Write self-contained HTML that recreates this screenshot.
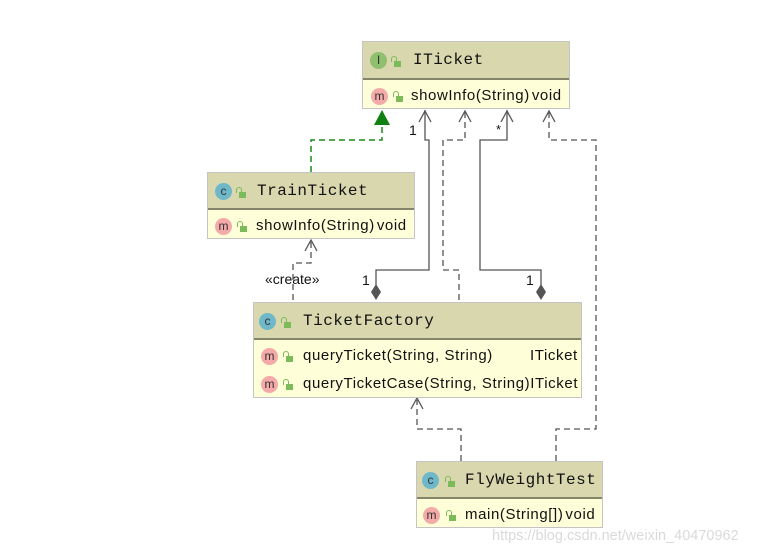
<!DOCTYPE html>
<html><head><meta charset="utf-8"><style>
body{margin:0;width:775px;height:555px;background:#fff;position:relative;overflow:hidden;font-family:"Liberation Sans",sans-serif}
.box{position:absolute;border:1px solid #c4c4c4;background:#fefed9;box-sizing:border-box}
.hd{position:absolute;left:0;right:0;top:0;background:#d8d7ae;border-bottom:2px solid #85856a;box-sizing:border-box}
.title{position:absolute;font-family:"Liberation Mono",monospace;font-size:16px;color:#111;letter-spacing:0.5px}
.row{position:absolute;font-size:15px;letter-spacing:0.6px;color:#111;white-space:nowrap}
.ic{position:absolute;width:17px;height:17px;border-radius:50%;font-size:12px;text-align:center;line-height:16px;color:#333;font-family:"Liberation Sans",sans-serif}
.c{background:#6fb8c9}.i{background:#8fbf6f}.m{background:#f4aaa8}
.lk{position:absolute;width:7px;height:6px;background:#7cba5a}
.lk:before{content:"";position:absolute;left:-3px;top:-5px;width:4px;height:5px;border:1.5px solid #7cba5a;border-bottom:none;border-radius:3px 3px 0 0}
.lbl{position:absolute;font-size:13px;color:#111}
</style></head><body>
<svg width="775" height="555" style="position:absolute;left:0;top:0">
<g fill="none" stroke="#555" stroke-width="1.3">
<path d="M425 110 V140 H429 V270 H376 V285"/>
<path d="M507 110 V140 H480 V270 H541 V285"/>
</g>
<g fill="none" stroke="#555" stroke-width="1.3" stroke-dasharray="6,4">
<path d="M465 112 V140 H443 V270 H459 V302"/>
<path d="M549 112 V140 H596 V429 H556 V461"/>
<path d="M311 242 V263 H293 V302"/>
<path d="M461 461 V429 H417 V400"/>
</g>
<g fill="none" stroke="#555" stroke-width="1.3">
<path d="M419 122 L425 111 L431 122"/>
<path d="M459 122 L465 111 L471 122"/>
<path d="M501 122 L507 111 L513 122"/>
<path d="M543 122 L549 111 L555 122"/>
<path d="M305 251 L311 240 L317 251"/>
<path d="M411 409 L417 398 L423 409"/>
</g>
<path d="M311 172 V140 H382 V125" fill="none" stroke="#1a8a1a" stroke-width="1.5" stroke-dasharray="6,4"/>
<path d="M374 125 L382 110 L390 125 Z" fill="#108010"/>
<path d="M376 284 L381 292 L376 300 L371 292 Z" fill="#555"/>
<path d="M541 284 L546 292 L541 300 L536 292 Z" fill="#555"/>
</svg>

<div class="box" style="left:362px;top:41px;width:208px;height:68px">
 <div class="hd" style="height:38px"></div>
 <div class="ic i" style="left:7px;top:10px">I</div><div class="lk" style="left:31px;top:19px"></div>
 <div class="title" style="left:50px;top:9px">ITicket</div>
 <div class="ic m" style="left:8px;top:46px">m</div><div class="lk" style="left:33px;top:54px"></div>
 <div class="row" style="left:48px;top:45px">showInfo(String)<span style="margin-left:2px">void</span></div>
</div>

<div class="box" style="left:207px;top:172px;width:208px;height:67px">
 <div class="hd" style="height:37px"></div>
 <div class="ic c" style="left:7px;top:10px">c</div><div class="lk" style="left:31px;top:19px"></div>
 <div class="title" style="left:49px;top:9px">TrainTicket</div>
 <div class="ic m" style="left:7px;top:45px">m</div><div class="lk" style="left:32px;top:53px"></div>
 <div class="row" style="left:48px;top:44px">showInfo(String)<span style="margin-left:2px">void</span></div>
</div>

<div class="box" style="left:253px;top:302px;width:329px;height:96px">
 <div class="hd" style="height:37px"></div>
 <div class="ic c" style="left:5px;top:10px">c</div><div class="lk" style="left:30px;top:19px"></div>
 <div class="title" style="left:49px;top:9px">TicketFactory</div>
 <div class="ic m" style="left:7px;top:45px">m</div><div class="lk" style="left:32px;top:53px"></div>
 <div class="row" style="left:49px;top:44px">queryTicket(String, String)</div>
 <div class="row" style="left:276px;top:44px">ITicket</div>
 <div class="ic m" style="left:7px;top:73px">m</div><div class="lk" style="left:32px;top:81px"></div>
 <div class="row" style="left:49px;top:72px">queryTicketCase(String, String)ITicket</div>
</div>

<div class="box" style="left:416px;top:461px;width:187px;height:67px">
 <div class="hd" style="height:37px"></div>
 <div class="ic c" style="left:5px;top:10px">c</div><div class="lk" style="left:31px;top:19px"></div>
 <div class="title" style="left:48px;top:9px">FlyWeightTest</div>
 <div class="ic m" style="left:6px;top:45px">m</div><div class="lk" style="left:32px;top:53px"></div>
 <div class="row" style="left:48px;top:44px">main(String[])<span style="margin-left:2px">void</span></div>
</div>

<div class="lbl" style="left:409px;top:122px;font-size:14px">1</div>
<div class="lbl" style="left:496px;top:122px">*</div>
<div class="lbl" style="left:362px;top:272px;font-size:14px">1</div>
<div class="lbl" style="left:526px;top:272px;font-size:14px">1</div>
<div class="lbl" style="left:265px;top:271px;font-size:14px">«create»</div>
<div style="position:absolute;left:492px;top:528px;font-size:14.5px;color:#dadada">https://blog.csdn.net/weixin_40470962</div>
</body></html>
